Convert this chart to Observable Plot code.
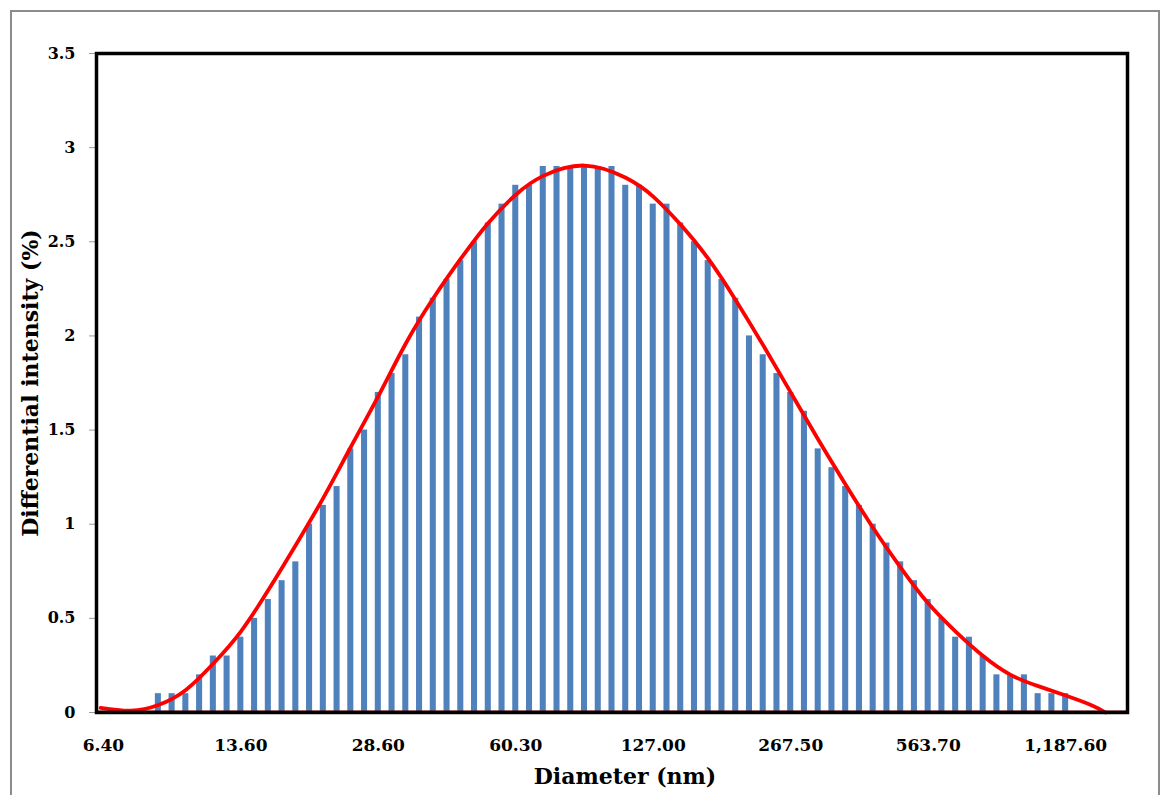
<!DOCTYPE html>
<html>
<head>
<meta charset="utf-8">
<script src="https://cdn.jsdelivr.net/npm/d3@7"></script>
<script src="https://cdn.jsdelivr.net/npm/@observablehq/plot@0.6"></script>
<style>
  html, body { margin: 0; padding: 0; background: #fff; }
  #wrap { position: relative; width: 1164px; height: 795px; overflow: hidden; }
  #border { position: absolute; left: 10px; top: 10px; width: 1150px; height: 800px; border: 2px solid #8c8c8c; box-sizing: border-box; }
  #chart { position: absolute; left: 0; top: 0; }
</style>
</head>
<body>
<div id="wrap">
  <div id="border"></div>
  <div id="chart"></div>
</div>
<script>
// Differential intensity (%) per diameter bin (75 log-spaced bins)
const intensity = [
  0, 0, 0, 0, 0.1, 0.1, 0.1, 0.2, 0.3, 0.3,
  0.4, 0.5, 0.6, 0.7, 0.8, 1.0, 1.1, 1.2, 1.4, 1.5,
  1.7, 1.8, 1.9, 2.1, 2.2, 2.3, 2.4, 2.5, 2.6, 2.7,
  2.8, 2.8, 2.9, 2.9, 2.9, 2.9, 2.9, 2.9, 2.8, 2.8,
  2.7, 2.7, 2.6, 2.5, 2.4, 2.3, 2.2, 2.0, 1.9, 1.8,
  1.7, 1.6, 1.4, 1.3, 1.2, 1.1, 1.0, 0.9, 0.8, 0.7,
  0.6, 0.5, 0.4, 0.4, 0.3, 0.2, 0.2, 0.2, 0.1, 0.1,
  0.1, 0, 0, 0, 0
];

// Tick labels (diameter, nm) shown every 10 bins
const tickBins = [0, 10, 20, 30, 40, 50, 60, 70];
const tickLabels = ["6.40", "13.60", "28.60", "60.30", "127.00", "267.50", "563.70", "1,187.60"];

// Smoothed fit curve (bin position, intensity)
const fitBin = [-0.2, 2, 4, 6, 8, 10, 12, 14, 16, 18, 20, 22, 24, 26, 28, 30, 32, 35, 38, 40, 42, 44, 46, 48, 50, 52, 54, 56, 58, 60, 62, 64, 66, 68, 70, 72, 72.9];
const fitValue = [0.025, 0.01, 0.04, 0.12, 0.26, 0.43, 0.65, 0.89, 1.14, 1.41, 1.68, 1.96, 2.2, 2.41, 2.6, 2.75, 2.85, 2.905, 2.84, 2.74, 2.59, 2.41, 2.19, 1.95, 1.70, 1.45, 1.21, 0.98, 0.77, 0.58, 0.43, 0.30, 0.20, 0.14, 0.09, 0.035, 0.0];

const bars = intensity.map((v, i) => ({bin: i, value: v}));
const fit = fitBin.map((b, i) => ({bin: b, value: fitValue[i]}));
const labelOf = new Map(tickBins.map((b, i) => [b, tickLabels[i]]));

const font = "'DejaVu Serif', serif";

const chart = Plot.plot({
  width: 1164,
  height: 795,
  marginLeft: 96,
  marginRight: 37,
  marginTop: 53,
  marginBottom: 83,
  style: {fontFamily: font, fontWeight: "bold", fontSize: "16px", color: "#000", background: "transparent"},
  x: {domain: [-0.5, 74.5], axis: null},
  y: {domain: [0, 3.5], axis: null},
  marks: [
    Plot.rectY(bars, {x1: d => d.bin - 0.22, x2: d => d.bin + 0.22, y: "value", fill: "#4F81BD"}),
    Plot.axisY({ticks: d3.range(0, 3.51, 0.5), tickSize: 7, stroke: "#9a9a9a", tickPadding: 14,
      fontSize: 16, fontWeight: "bold", label: null, tickFormat: d => d3.format("")(d)}),
    Plot.axisX({ticks: tickBins, tickSize: 0, tickPadding: 26, fontSize: 17, fontWeight: "bold",
      label: null, tickFormat: d => labelOf.get(d)}),
    Plot.line(fit, {x: "bin", y: "value", stroke: "#FF0000", strokeWidth: 3.8, curve: "natural"}),
    Plot.ruleY([0], {stroke: "#8B1010", strokeWidth: 2, dy: -1}),
    Plot.frame({stroke: "#000", strokeWidth: 3.5}),
    Plot.text(["Diameter (nm)"], {frameAnchor: "bottom", dx: 13, dy: 71, fontSize: 22, fontWeight: "bold", fill: "#000"}),
    Plot.text(["Differential intensity (%)"], {frameAnchor: "left", textAnchor: "middle", dx: -66, rotate: -90, fontSize: 22, fontWeight: "bold", fill: "#000"})
  ]
});
document.getElementById("chart").appendChild(chart);
</script>
</body>
</html>
